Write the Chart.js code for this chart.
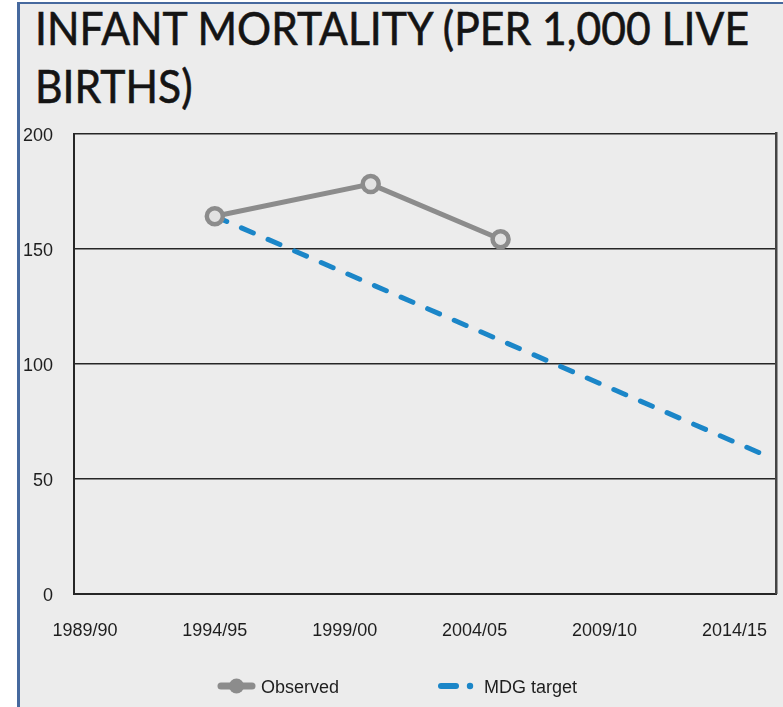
<!DOCTYPE html>
<html lang="en">
<head>
<meta charset="UTF-8">
<title>Infant mortality</title>
<script src="https://cdn.jsdelivr.net/npm/chart.js"></script>
<style>
    html, body { margin: 0; padding: 0; background: #fff; }
    body { width: 783px; height: 707px; position: relative; overflow: hidden; }
    .painel {
        position: absolute; left: 17px; top: 2px; width: 800px; height: 720px;
        background: #ececec;
        border-left: 3px solid #46699e;
        border-top: 2px solid #46699e;
    }
    .titulo {
        position: absolute; left: 35px; top: -1px;
        font-family: Lato, sans-serif; font-size: 46px; line-height: 58px;
        color: #141414; white-space: nowrap; transform-origin: 0 0;
        -webkit-text-stroke: 0.6px #141414;
    }
    #grafico { position: absolute; left: 0; top: 0; }
</style>
</head>
<body>
    <div class="painel"></div>
    <div class="titulo" id="titulo">INFANT MORTALITY (PER 1,000 LIVE<br>BIRTHS)</div>
    <canvas id="grafico" width="783" height="707"></canvas>

<script>
    // valores
    const periodos = ['1989/90', '1994/95', '1999/00', '2004/05', '2009/10', '2014/15'];
    const anosObservados = [5, 11, 16];          // anos depois de 1989/90
    const valoresObservados = [164, 178, 154];
    const anosMeta = [5, 26];
    const valoresMeta = [164, 61];
    const ticksY = [0, 50, 100, 150, 200];

    const cinza = '#8c8c8c';
    const azul = '#1b86c8';
    const linha = '#262626';

    // ajusta a largura do titulo (fonte original e mais estreita)
    const med = document.createElement('canvas').getContext('2d');
    med.font = '46px Lato';
    const larg = med.measureText('INFANT MORTALITY (PER 1,000 LIVE').width;
    document.getElementById('titulo').style.transform = 'scaleX(' + (717 / larg) + ')';

    const legenda = {
        id: 'legenda',
        afterDraw(chart) {
            const ctx = chart.ctx;
            const y = 686;
            ctx.save();
            ctx.lineCap = 'round';
            // Observed
            ctx.strokeStyle = cinza;
            ctx.lineWidth = 7;
            ctx.beginPath();
            ctx.moveTo(221, y);
            ctx.lineTo(252, y);
            ctx.stroke();
            ctx.fillStyle = cinza;
            ctx.beginPath();
            ctx.arc(236.5, y, 7.5, 0, Math.PI * 2);
            ctx.fill();
            // MDG target
            ctx.strokeStyle = azul;
            ctx.lineWidth = 6;
            ctx.beginPath();
            ctx.moveTo(441, y);
            ctx.lineTo(456, y);
            ctx.stroke();
            ctx.fillStyle = azul;
            ctx.beginPath();
            ctx.arc(470, y, 3.2, 0, Math.PI * 2);
            ctx.fill();

            ctx.fillStyle = '#1e1e1e';
            ctx.font = '18px "Liberation Sans", Arial, sans-serif';
            ctx.textBaseline = 'middle';
            ctx.fillText('Observed', 261, y + 2);
            ctx.fillText('MDG target', 484, y + 2);
            ctx.restore();
        }
    };

    const ctx = document.getElementById('grafico');

    new Chart(ctx, {
        type: 'line',
        data: {
            datasets: [{
                label: 'Observed',
                data: anosObservados.map((a, i) => ({ x: a, y: valoresObservados[i] })),
                borderColor: cinza,
                borderWidth: 5,
                pointRadius: 8,
                pointBorderWidth: 4.5,
                pointBorderColor: cinza,
                pointBackgroundColor: '#e2e2e2',
                tension: 0
            },
            {
                label: 'MDG target',
                data: anosMeta.map((a, i) => ({ x: a, y: valoresMeta[i] })),
                borderColor: azul,
                borderWidth: 5,
                borderDash: [13, 16],
                borderCapStyle: 'round',
                pointRadius: 0,
                tension: 0
            }]
        },
        options: {
            responsive: false,
            animation: false,
            events: [],
            layout: { autoPadding: false, padding: { top: 133.5, left: 0, right: 6.5, bottom: 0 } },
            plugins: {
                legend: { display: false },
                tooltip: { enabled: false }
            },
            scales: {
                x: {
                    type: 'linear',
                    min: -0.42,
                    max: 26.62,
                    afterBuildTicks: (axis) => {
                        axis.ticks = periodos.map((p, i) => ({ value: i * 5 }));
                    },
                    afterFit: (axis) => {
                        axis.height = 113.5;
                        axis.paddingLeft = 0;
                        axis.paddingRight = 0;
                    },
                    ticks: {
                        callback: (v) => periodos[v / 5],
                        maxRotation: 0,
                        autoSkip: false,
                        padding: 5,
                        color: '#1e1e1e',
                        font: { family: '"Liberation Sans", Arial, sans-serif', size: 18, lineHeight: 3.6 }
                    },
                    grid: { display: false, drawTicks: false },
                    border: { display: true, color: linha, width: 2 }
                },
                y: {
                    min: 0,
                    max: 200,
                    afterBuildTicks: (axis) => {
                        axis.ticks = ticksY.map(v => ({ value: v }));
                    },
                    afterFit: (axis) => { axis.width = 74; },
                    ticks: {
                        padding: 21,
                        labelOffset: 3,
                        color: '#1e1e1e',
                        font: { family: '"Liberation Sans", Arial, sans-serif', size: 18 }
                    },
                    grid: { color: linha, lineWidth: 1.6, drawTicks: false },
                    border: { display: true, color: linha, width: 2 }
                },
                y2: {
                    position: 'right',
                    min: 0,
                    max: 200,
                    ticks: { display: false },
                    grid: { display: false, drawTicks: false },
                    border: { display: true, color: '#444', width: 2.5 },
                    afterFit: (axis) => { axis.width = 0; }
                }
            }
        },
        plugins: [legenda]
    });
</script>
</body>
</html>
